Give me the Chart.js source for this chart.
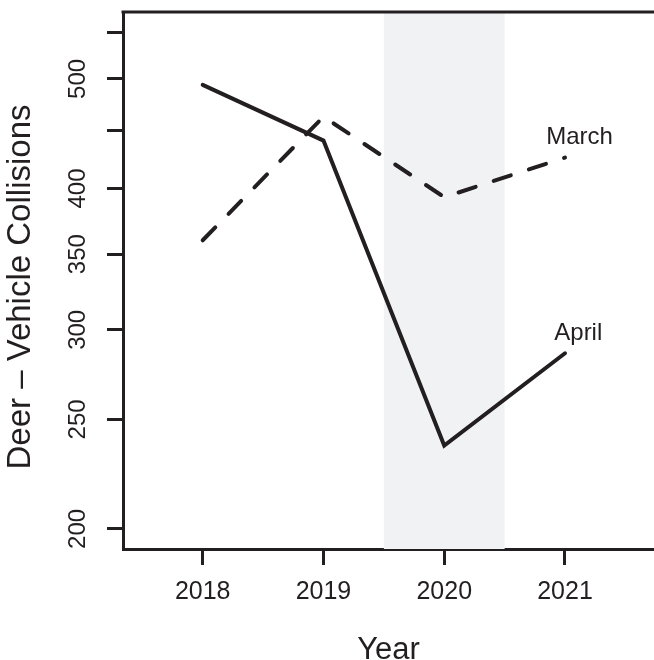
<!DOCTYPE html>
<html>
<head>
<meta charset="utf-8">
<script src="https://cdn.jsdelivr.net/npm/chart.js@4"></script>
<style>
  html, body { margin: 0; padding: 0; background: #ffffff; }
  #wrap { width: 654px; height: 660px; position: relative; }
</style>
</head>
<body>
<div id="wrap"><canvas id="collisionChart"></canvas></div>
<script>
const YEARS = [2018, 2019, 2020, 2021];
const APRIL = [494, 441, 237, 286];
const MARCH = [360, 463, 393, 426];
const Y_TICKS = [200, 250, 300, 350, 400, 450, 500, 550];
const Y_LABELS = [200, 250, 300, 350, 400, 500];
const SHADE_YEARS = [2019.5, 2020.5];
const SERIES_LABELS = [
  { text: 'March', x: 2021.12, y: 444 },
  { text: 'April', x: 2021.11, y: 297.6 }
];
const X_TITLE = 'Year';
const Y_TITLE = 'Deer – Vehicle Collisions';

const INK = '#231f20';
const FONT = '"Liberation Sans", Arial, Helvetica, sans-serif';

const toPoints = values => values.map((v, i) => ({ x: YEARS[i], y: v }));

// shaded 2020 band, behind the lines
const shadePlugin = {
  id: 'shade',
  beforeDatasetsDraw(chart) {
    const { ctx, chartArea, scales } = chart;
    const x0 = scales.x.getPixelForValue(SHADE_YEARS[0]);
    const x1 = scales.x.getPixelForValue(SHADE_YEARS[1]);
    ctx.save();
    ctx.fillStyle = '#f1f2f4';
    ctx.fillRect(x0, chartArea.top, x1 - x0, chartArea.bottom - chartArea.top);
    ctx.restore();
  }
};

// rotated y labels, axis titles, series labels and the top frame line
const textPlugin = {
  id: 'texts',
  afterDraw(chart) {
    const { ctx, chartArea, scales } = chart;
    ctx.save();
    ctx.fillStyle = INK;
    ctx.font = '24px ' + FONT;
    ctx.textAlign = 'center';
    ctx.textBaseline = 'middle';
    Y_LABELS.forEach(v => {
      const y = scales.y.getPixelForValue(v);
      ctx.save();
      ctx.translate(78, y);
      ctx.rotate(-Math.PI / 2);
      ctx.fillText(String(v), 0, 0);
      ctx.restore();
    });
    SERIES_LABELS.forEach(l => {
      ctx.fillText(l.text, scales.x.getPixelForValue(l.x), scales.y.getPixelForValue(l.y));
    });

    ctx.font = '33px ' + FONT;
    ctx.save();
    ctx.translate(21, 287);
    ctx.rotate(-Math.PI / 2);
    ctx.fillText(Y_TITLE, 0, 0);
    ctx.restore();

    ctx.font = '31px ' + FONT;
    ctx.textBaseline = 'alphabetic';
    ctx.fillText(X_TITLE, (chartArea.left + chartArea.right) / 2, 659);

    ctx.strokeStyle = INK;
    ctx.lineWidth = 3;
    ctx.beginPath();
    ctx.moveTo(chartArea.left - 1.5, chartArea.top);
    ctx.lineTo(chart.width, chartArea.top);
    ctx.stroke();
    ctx.restore();
  }
};

new Chart(document.getElementById('collisionChart'), {
  type: 'line',
  data: {
    datasets: [
      {
        label: 'April',
        data: toPoints(APRIL),
        borderColor: INK,
        borderWidth: 4,
        pointRadius: 0,
        tension: 0,
        borderCapStyle: 'round',
        borderJoinStyle: 'miter'
      },
      {
        label: 'March',
        data: toPoints(MARCH),
        borderColor: INK,
        borderWidth: 4,
        borderDash: [18, 19],
        pointRadius: 0,
        tension: 0,
        borderCapStyle: 'round',
        borderJoinStyle: 'round'
      }
    ]
  },
  options: {
    responsive: true,
    maintainAspectRatio: false,
    animation: false,
    layout: { padding: { top: 12, right: 0, bottom: 0, left: 0 } },
    plugins: {
      legend: { display: false },
      tooltip: { enabled: false }
    },
    scales: {
      x: {
        type: 'linear',
        min: 2017.34,
        max: 2021.737,
        afterBuildTicks: scale => { scale.ticks = YEARS.map(v => ({ value: v })); },
        afterFit: scale => { scale.height = 111; },
        grid: { drawOnChartArea: false, drawTicks: true, tickLength: 16, color: INK, lineWidth: 3 },
        border: { display: true, color: INK, width: 3 },
        ticks: {
          color: INK,
          font: { family: FONT, size: 25 },
          padding: 12,
          maxRotation: 0,
          callback: v => String(v)
        },
        title: { display: false }
      },
      y: {
        type: 'logarithmic',
        min: 192,
        max: 573,
        afterBuildTicks: scale => { scale.ticks = Y_TICKS.map(v => ({ value: v })); },
        afterFit: scale => { scale.width = 123; },
        grid: { drawOnChartArea: false, drawTicks: true, tickLength: 16, color: INK, lineWidth: 3 },
        border: { display: true, color: INK, width: 3 },
        ticks: { display: false },
        title: { display: false }
      }
    }
  },
  plugins: [shadePlugin, textPlugin]
});
</script>
</body>
</html>
